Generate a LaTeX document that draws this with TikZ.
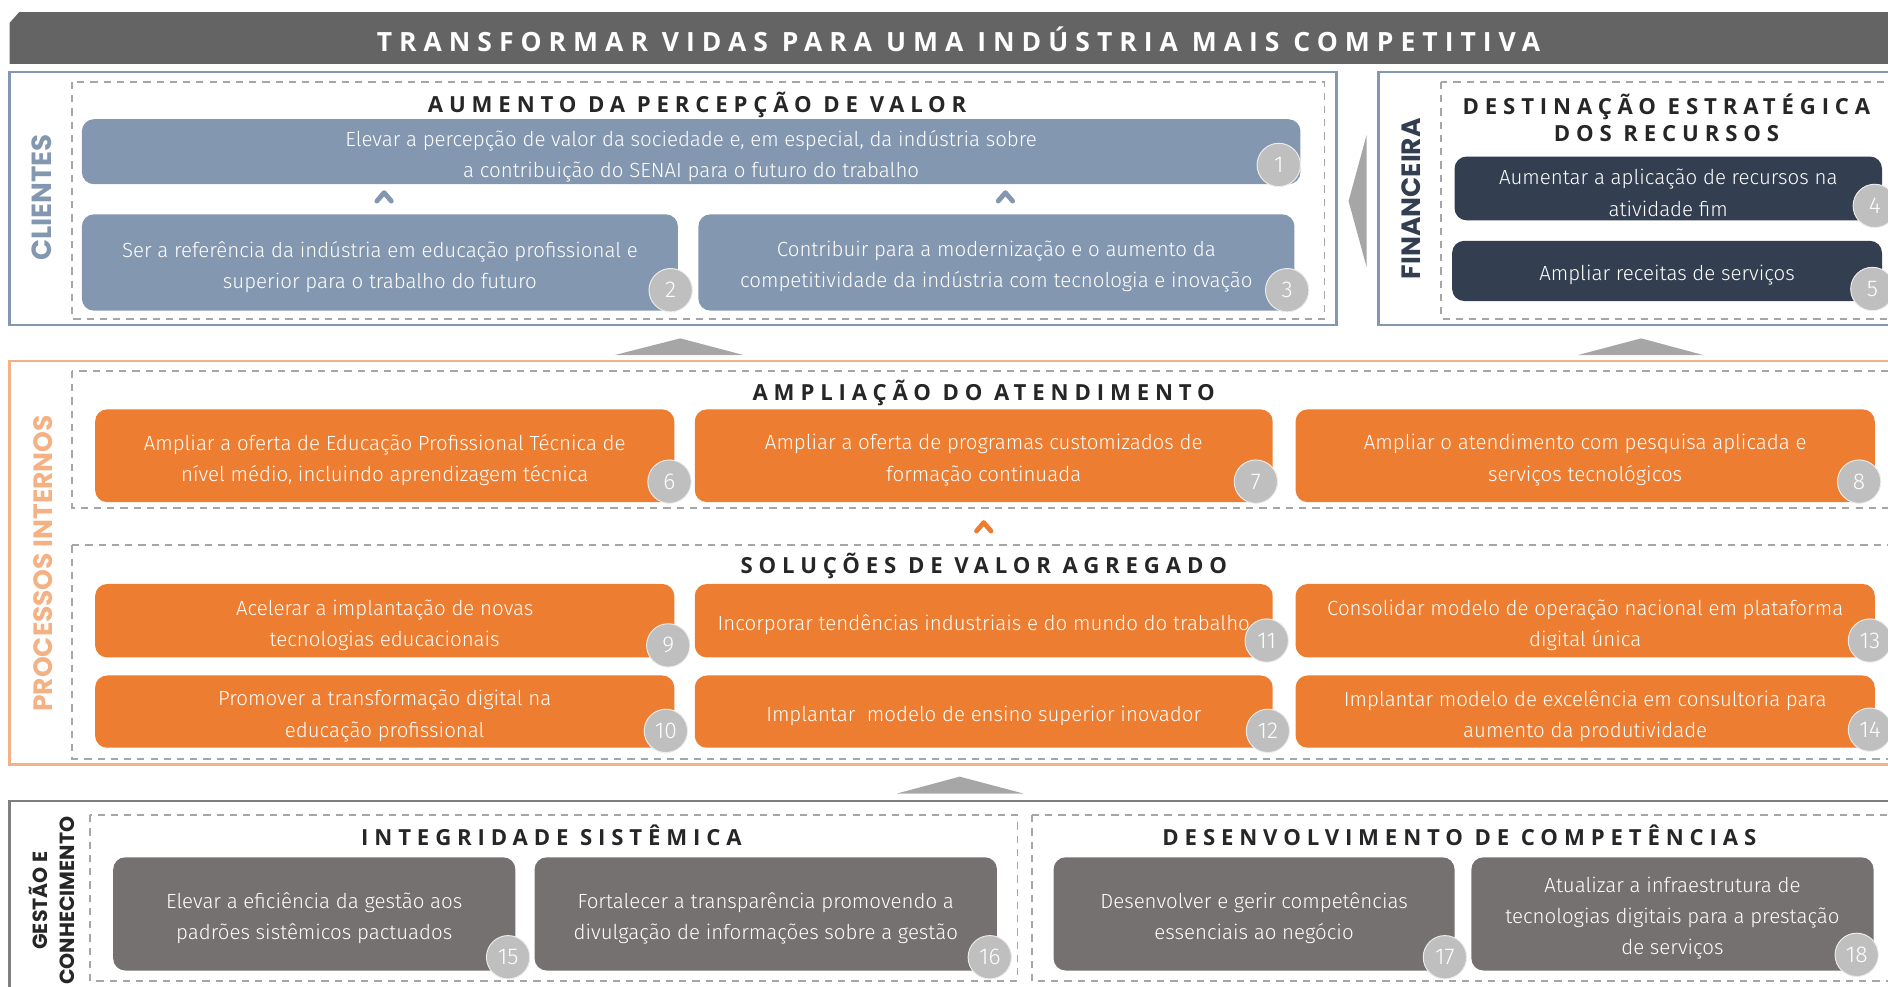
\documentclass[tikz,border=0pt]{standalone}
\usepackage{fontspec}
\IfFontExistsTF{Fira Sans Light}{\newfontfamily\bodyfont{Fira Sans Light}}{%
  \IfFontExistsTF{FiraSans-Light.otf}{\newfontfamily\bodyfont{FiraSans-Light.otf}}{%
    \IfFontExistsTF{Lato Light}{\newfontfamily\bodyfont{Lato Light}}{\newfontfamily\bodyfont{Fira Sans}}}}
\newfontfamily\headfont{Open Sans}[LetterSpace=26.5]
\newfontfamily\vfont{Poppins}
\definecolor{titlegray}{HTML}{646464}
\definecolor{cliblue}{HTML}{8497B0}
\definecolor{findark}{HTML}{333F50}
\definecolor{orangebox}{HTML}{ED7D31}
\definecolor{orangeline}{HTML}{F4B183}
\definecolor{gesgray}{HTML}{767171}
\definecolor{gesline}{HTML}{7F7F7F}
\definecolor{circgray}{HTML}{BFBFBF}
\definecolor{dashgray}{HTML}{A6A6A6}
\definecolor{headtext}{HTML}{262626}
\newcommand{\objnode}[6]{%
  \node[obj, fill=#2, minimum width=#3, minimum height=#4] (#1) at (#5) {};
  \node[objtext] (#1t) at ([yshift=-1.8pt]#1.center) {#6};}
\begin{document}
\begin{tikzpicture}[x=0.5pt,y=-0.5pt,
  obj/.style={rounded corners=5pt, inner sep=0pt},
  objtext/.style={inner sep=0pt, align=center, text=white,
    font=\bodyfont\fontsize{8.5}{13}\selectfont},
  num/.style={circle, fill=circgray, draw=white!70!circgray, line width=0.4pt, minimum size=18pt, inner sep=0pt, text=white,
    font=\bodyfont\fontsize{9.5}{9.5}\selectfont},
  dbox/.style={draw=dashgray, dash pattern=on 3pt off 2.5pt, line width=0.8pt},
  head/.style={font=\headfont\bfseries\fontsize{9.2}{11}\selectfont, text=headtext, inner sep=0pt, align=center},
  titletext/.style={font=\headfont\bfseries\fontsize{11}{13}\selectfont, text=white, inner sep=0pt},
  vlabel/.style={rotate=90, font=\vfont\bfseries\fontsize{11}{11}\selectfont, inner sep=0pt, align=center},
  tri/.style={fill=dashgray},
  chev/.style={line width=2pt, line cap=round, line join=round}
]
\useasboundingbox (0,0) rectangle (1568,819);
% title bar
\fill[titlegray] (8,19) -- (16,10) -- (1572,10) -- (1572,53) -- (8,53) -- cycle;
\node[titletext] (title) at (796,32.5) {TRANSFORMAR VIDAS PARA UMA INDÚSTRIA MAIS COMPETITIVA};

% ---------------- CLIENTES
\draw[cliblue, line width=1pt] (8,60) rectangle (1110,270);
\draw[dbox] (60,68) rectangle (1100,265);
\node[vlabel, text=cliblue, font=\vfont\bfseries\fontsize{11.5}{11.5}\selectfont] (lcli) at (35,164) {CLIENTES};
\node[head] (hcli) at (579,87) {AUMENTO DA PERCEPÇÃO DE VALOR};
\objnode{b1}{cliblue}{506pt}{27pt}{574,126}
  {Elevar a percepção de valor da sociedade e, em especial, da indústria sobre\\a contribuição do SENAI para o futuro do trabalho}
\objnode{b2}{cliblue}{247.5pt}{40pt}{315.5,218}
  {Ser a referência da indústria em educação profissional e\\superior para o trabalho do futuro}
\objnode{b3}{cliblue}{247.5pt}{40pt}{827.5,218}
  {Contribuir para a modernização e o aumento da\\competitividade da indústria com tecnologia e inovação}
\node[num] (n1) at (1062,137) {1};
\node[num] (n2) at (557,241) {2};
\node[num] (n3) at (1069,241) {3};
\draw[chev, cliblue] (313,167) -- (319,160) -- (325,167);
\draw[chev, cliblue] (829,167) -- (835,160) -- (841,167);

% arrow to financeira
\fill[tri] (1120,167) -- (1135,112) -- (1135,222) -- cycle;

% ---------------- FINANCEIRA
\draw[cliblue, line width=1pt] (1145,60) rectangle (1580,270);
\draw[dbox] (1197,68) rectangle (1580,265);
\node[vlabel, text=findark] (lfin) at (1172,165) {FINANCEIRA};
\node[head] (hfin) at (1384,98) {DESTINAÇÃO ESTRATÉGICA\\DOS RECURSOS};
\objnode{b4}{findark}{177.5pt}{26.5pt}{1385.5,156.5}
  {Aumentar a aplicação de recursos na\\atividade fim}
\objnode{b5}{findark}{178.5pt}{25pt}{1384.5,225}
  {Ampliar receitas de serviços}
\node[num] (n4) at (1557,171) {4};
\node[num] (n5) at (1555,240) {5};

% up triangles
\fill[tri] (510,295) -- (565,281) -- (618,295) -- cycle;
\fill[tri] (1310,295) -- (1363,281) -- (1415,295) -- cycle;

% ---------------- PROCESSOS INTERNOS
\draw[orangeline, line width=1pt] (8,300) rectangle (1580,635);
\node[vlabel, text=orangeline] (lproc) at (36,468) {PROCESSOS INTERNOS};
\draw[dbox] (60,308) rectangle (1580,422);
\node[head] (hamp) at (817,326) {AMPLIAÇÃO DO ATENDIMENTO};
\objnode{b6}{orangebox}{240.5pt}{38.5pt}{319.5,378.5}
  {Ampliar a oferta de Educação Profissional Técnica de\\nível médio, incluindo aprendizagem técnica}
\objnode{b7}{orangebox}{240pt}{38.5pt}{817,378.5}
  {Ampliar a oferta de programas customizados de\\formação continuada}
\objnode{b8}{orangebox}{240.5pt}{38.5pt}{1316.5,378.5}
  {Ampliar o atendimento com pesquisa aplicada e\\serviços tecnológicos}
\node[num] (n6) at (556,400) {6};
\node[num] (n7) at (1043,400) {7};
\node[num] (n8) at (1544,400) {8};
\draw[chev, orangebox] (811,441) -- (817,434) -- (823,441);

\draw[dbox] (60,453) rectangle (1580,630);
\node[head] (hsol) at (817,470) {SOLUÇÕES DE VALOR AGREGADO};
\objnode{b9}{orangebox}{240.5pt}{30.5pt}{319.5,515.5}
  {Acelerar a implantação de novas\\tecnologias educacionais}
\objnode{b11}{orangebox}{240pt}{30.5pt}{817,515.5}
  {Incorporar tendências industriais e do mundo do trabalho}
\objnode{b13}{orangebox}{240.5pt}{30.5pt}{1316.5,515.5}
  {Consolidar modelo de operação nacional em plataforma\\digital única}
\objnode{b10}{orangebox}{240.5pt}{30pt}{319.5,591}
  {Promover a transformação digital na\\educação profissional}
\objnode{b12}{orangebox}{240pt}{30pt}{817,591}
  {Implantar \ modelo de ensino superior inovador}
\objnode{b14}{orangebox}{240.5pt}{30pt}{1316.5,591}
  {Implantar modelo de excelência em consultoria para\\aumento da produtividade}
\node[num] (n9) at (555,536) {9};
\node[num] (n11) at (1052,532) {11};
\node[num] (n13) at (1553,532) {13};
\node[num] (n10) at (553,607) {10};
\node[num] (n12) at (1053,607) {12};
\node[num] (n14) at (1553,606) {14};

\fill[tri] (745,659) -- (797,645) -- (850,659) -- cycle;

% ---------------- GESTAO E CONHECIMENTO
\draw[gesline, line width=1pt] (8,665) rectangle (1580,830);
\node[vlabel, text=headtext, font=\vfont\bfseries\fontsize{8.5}{11}\selectfont] (lges) at (43,748) {GESTÃO E\\CONHECIMENTO};
\draw[dbox] (75,677) rectangle (845,815);
\node[head] (hint) at (458,694) {INTEGRIDADE SISTÊMICA};
\objnode{b15}{gesgray}{167pt}{47pt}{261,759}
  {Elevar a eficiência da gestão aos\\padrões sistêmicos pactuados}
\objnode{b16}{gesgray}{192pt}{47pt}{636,759}
  {Fortalecer a transparência promovendo a\\divulgação de informações sobre a gestão}
\draw[dbox] (857,677) rectangle (1580,815);
\node[head] (hdes) at (1212,694) {DESENVOLVIMENTO DE COMPETÊNCIAS};
\objnode{b17}{gesgray}{166.5pt}{47pt}{1041.5,759}
  {Desenvolver e gerir competências\\essenciais ao negócio}
\objnode{b18}{gesgray}{167pt}{47pt}{1389,759}
  {Atualizar a infraestrutura de\\tecnologias digitais para a prestação\\de serviços}
\node[num] (n15) at (422,795) {15};
\node[num] (n16) at (822,795) {16};
\node[num] (n17) at (1200,795) {17};
\node[num] (n18) at (1542,793) {18};
\end{tikzpicture}
\end{document}
